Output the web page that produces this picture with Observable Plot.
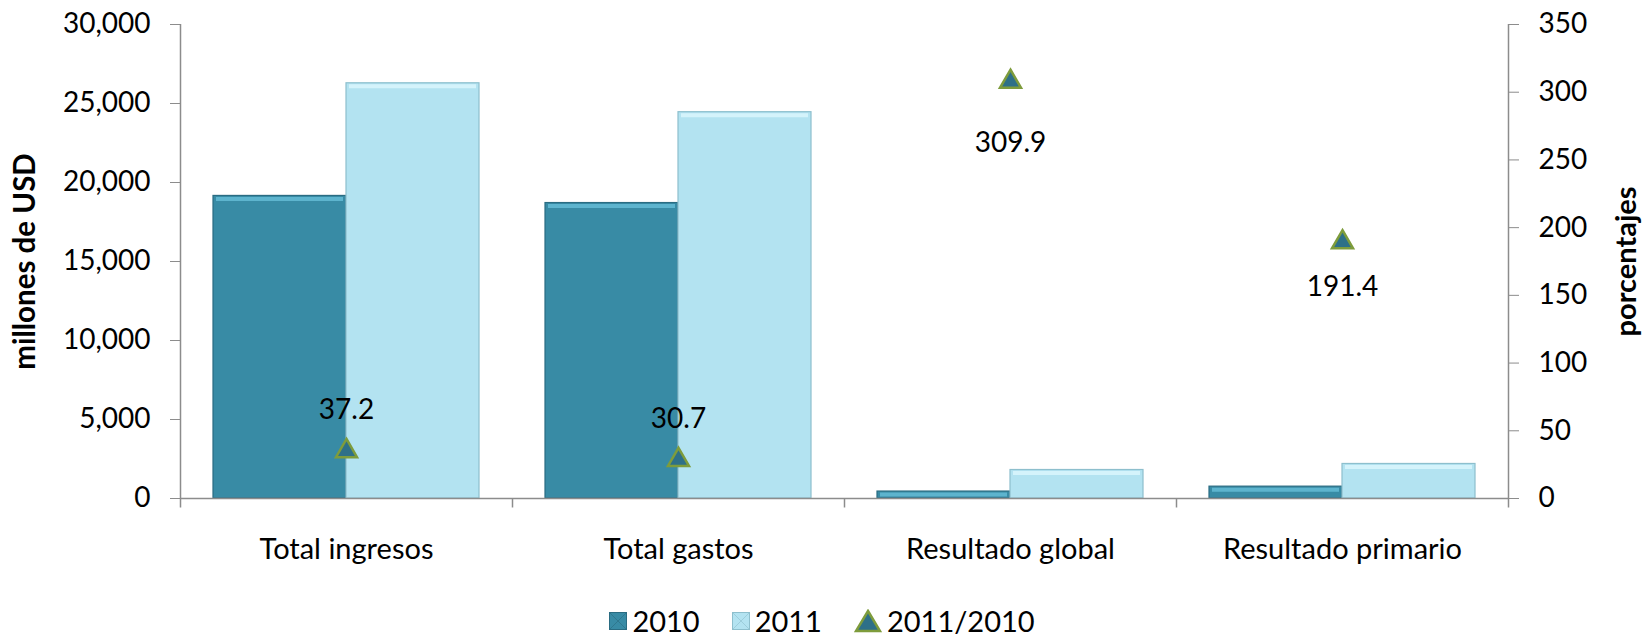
<!DOCTYPE html>
<html>
<head>
<meta charset="utf-8">
<script src="https://cdn.jsdelivr.net/npm/d3@7"></script>
<script src="https://cdn.jsdelivr.net/npm/@observablehq/plot@0.6"></script>
<style>
  html, body { margin: 0; padding: 0; background: #fff; }
  body { width: 1644px; height: 636px; overflow: hidden; font-family: Lato, "Open Sans", sans-serif; }
  #legend { display: flex; justify-content: center; align-items: center; height: 30px; padding-top: 8px; font-size: 29px; line-height: 30px; color: #000; }
  #legend .item { display: flex; align-items: center; margin: 0 16px; }
  #legend svg { margin-right: 5px; }
</style>
</head>
<body>
<div id="chart"></div>
<div id="legend"></div>
<script>
// ---- data ----
const categories = ["Total ingresos", "Total gastos", "Resultado global", "Resultado primario"];
const values2010 = [19150, 18700, 440, 750];
const values2011 = [26280, 24450, 1804, 2186];
const growth = [37.2, 30.7, 309.9, 191.4];
const leftTicks = [0, 5000, 10000, 15000, 20000, 25000, 30000];
const rightTicks = [0, 50, 100, 150, 200, 250, 300, 350];
const seriesNames = ["2010", "2011", "2011/2010"];
const leftTitle = "millones de USD";
const rightTitle = "porcentajes";

// colours
const c2010 = "#388BA5", c2010s = "#2A6C82", c2010h = "#5DB4CE";
const c2011 = "#B3E3F1", c2011s = "#8DBFCD", c2011h = "#D4F3FB";
const triFill = "#2E7088", triStroke = "#7E9C3C";
const axisGrey = "#8c8c8c";

// secondary axis maps percentages into the primary y units
const k = 30000 / 350;
const gy = (d, i) => growth[i] * k;
const gtext = (d, i) => growth[i].toFixed(1);

const chart = Plot.plot({
  width: 1644,
  height: 598,
  marginLeft: 180,
  marginRight: 136,
  marginTop: 24,
  marginBottom: 100,
  style: { fontFamily: "Lato, 'Open Sans', sans-serif", fontSize: "28px", color: "#000", background: "#fff" },
  x: { type: "band", domain: categories, padding: 0, axis: null },
  y: { domain: [0, 30000], axis: null },
  marks: [
    Plot.barY(categories, { x: d => d, y: (d, i) => values2010[i], insetLeft: 33, insetRight: 166, fill: c2010, stroke: c2010s, strokeWidth: 1.2 }),
    Plot.barY(categories, { x: d => d, y: (d, i) => values2011[i], insetLeft: 166, insetRight: 33, fill: c2011, stroke: c2011s, strokeWidth: 1.2 }),
    // top bevel highlight
    Plot.tickY(categories, { x: d => d, y: (d, i) => values2010[i], insetLeft: 36, insetRight: 169, dy: 3, stroke: c2010h, strokeWidth: 4 }),
    Plot.tickY(categories, { x: d => d, y: (d, i) => values2011[i], insetLeft: 169, insetRight: 36, dy: 3, stroke: c2011h, strokeWidth: 4 }),
    Plot.ruleY([0], { stroke: axisGrey, strokeWidth: 1.5 }),
    // axis lines
    Plot.ruleX([categories[0]], { x: d => d, dx: -166, y1: -600, y2: 30000, stroke: axisGrey, strokeWidth: 1.5 }),
    Plot.ruleX([categories[categories.length - 1]], { x: d => d, dx: 166, y1: -600, y2: 30000, stroke: axisGrey, strokeWidth: 1.5 }),
    // category separators
    Plot.ruleX(categories.slice(1), { x: d => d, dx: -166, y1: -600, y2: 0, stroke: axisGrey, strokeWidth: 1.5 }),
    Plot.axisY({ anchor: "left", ticks: leftTicks, tickFormat: d3.format(","), tickSize: 10, tickPadding: 20, stroke: axisGrey, fill: "#000", label: null }),
    Plot.axisY({ anchor: "right", ticks: rightTicks.map(v => v * k), tickFormat: d => String(Math.round(d / k)), tickSize: 10, tickPadding: 20, stroke: axisGrey, fill: "#000", label: null }),
    Plot.axisX({ anchor: "bottom", tickSize: 0, tickPadding: 40, fill: "#000", fontSize: 29, label: null }),
    // growth markers
    Plot.dot(categories, { x: d => d, y: gy, symbol: "triangle", r: 7.8, dy: 3, fill: triFill, stroke: triStroke, strokeWidth: 2.5 }),
    Plot.text(categories, { filter: (d, i) => growth[i] < 100, x: d => d, y: gy, text: gtext, dy: -38, fill: "#000" }),
    Plot.text(categories, { filter: (d, i) => growth[i] >= 100 && growth[i] < 250, x: d => d, y: gy, text: gtext, dy: 48, fill: "#000" }),
    Plot.text(categories, { filter: (d, i) => growth[i] >= 250, x: d => d, y: gy, text: gtext, dy: 64, fill: "#000" }),
    // axis titles
    Plot.text([leftTitle], { frameAnchor: "left", textAnchor: "middle", rotate: -90, dx: -155, fontWeight: "bold", fontSize: 29.5, text: d => d, fill: "#000" }),
    Plot.text([rightTitle], { frameAnchor: "right", textAnchor: "middle", rotate: -90, dx: 118, fontWeight: "bold", fontSize: 29, text: d => d, fill: "#000" })
  ]
});
document.getElementById("chart").appendChild(chart);

// legend
const legend = d3.select("#legend");
const swatch = (item, fill, stroke) => {
  const s = item.append("svg").attr("width", 18).attr("height", 18);
  s.append("rect").attr("x", 0.5).attr("y", 0.5).attr("width", 17).attr("height", 17).attr("fill", fill).attr("stroke", stroke);
  s.append("path").attr("d", "M1,1L17,17M17,1L1,17").attr("stroke", stroke).attr("stroke-width", 1).attr("opacity", 0.6);
};
seriesNames.forEach((name, i) => {
  const item = legend.append("div").attr("class", "item");
  if (i === 0) swatch(item, c2010, c2010s);
  else if (i === 1) swatch(item, c2011, c2011s);
  else {
    const s = item.append("svg").attr("width", 28).attr("height", 24);
    s.append("path").attr("d", "M14,2L26,22L2,22Z").attr("fill", triFill).attr("stroke", triStroke).attr("stroke-width", 2.5);
  }
  item.append("span").text(name);
});
</script>
</body>
</html>
